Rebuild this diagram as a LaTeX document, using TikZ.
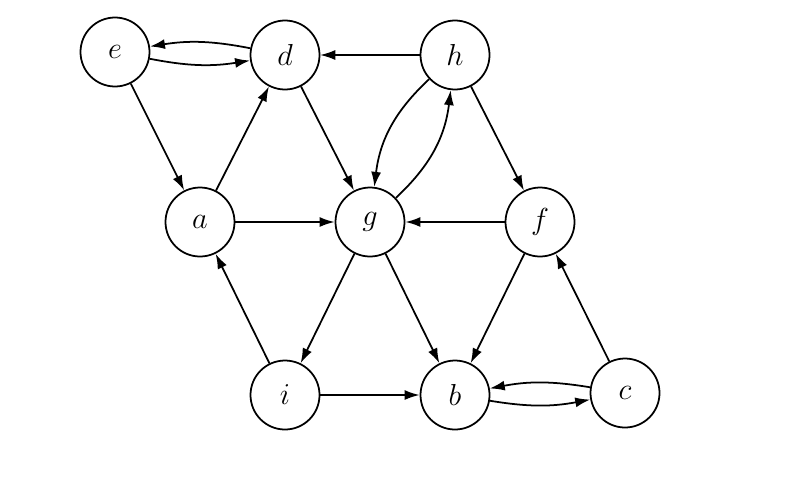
\documentclass[tikz,border=0pt]{standalone}
\usetikzlibrary{arrows.meta}
\begin{document}
\begin{tikzpicture}[>={Latex[length=3mm,width=2mm]},
  vtx/.style={draw,circle,line width=1pt,minimum size=1.38cm,inner sep=0pt,font=\LARGE}]
      \useasboundingbox (0,0) rectangle (15.8,9.8);
      \draw
        (2.3,8.76) node[vtx] (e){$e$}
        (5.7,8.7) node[vtx] (d){$d$}
        (9.1,8.7) node[vtx] (h){$h$}
        (4.0,5.36) node[vtx] (a){$a$}
        (7.4,5.36) node[vtx] (g){$g$}
        (10.8,5.36) node[vtx] (f){$f$}
        (5.7,1.9) node[vtx] (i){$i$}
        (9.1,1.9) node[vtx] (b){$b$}
        (12.5,1.94) node[vtx] (c){$c$};
      \begin{scope}[->,line width=1pt]
        \draw (e) to (a);
        \draw (a) to (d);
        \draw (d) to (g);
        \draw[line width=0.6pt] (h) to (d);
        \draw (h) to (f);
        \draw (h) to[bend right=20] (g);
        \draw (g) to[bend right=20] (h);
        \draw (e) to[bend right=10] (d);
        \draw (d) to[bend right=10] (e);
        \draw (a) to (g);
        \draw (f) to (g);
        \draw (g) to (i);
        \draw (g) to (b);
        \draw (i) to (a);
        \draw (f) to (b);
        \draw (i) to (b);
        \draw (c) to (f);
        \draw (c) to[bend right=10] (b);
        \draw (b) to[bend right=10] (c);
      \end{scope}
    \end{tikzpicture}
\end{document}
